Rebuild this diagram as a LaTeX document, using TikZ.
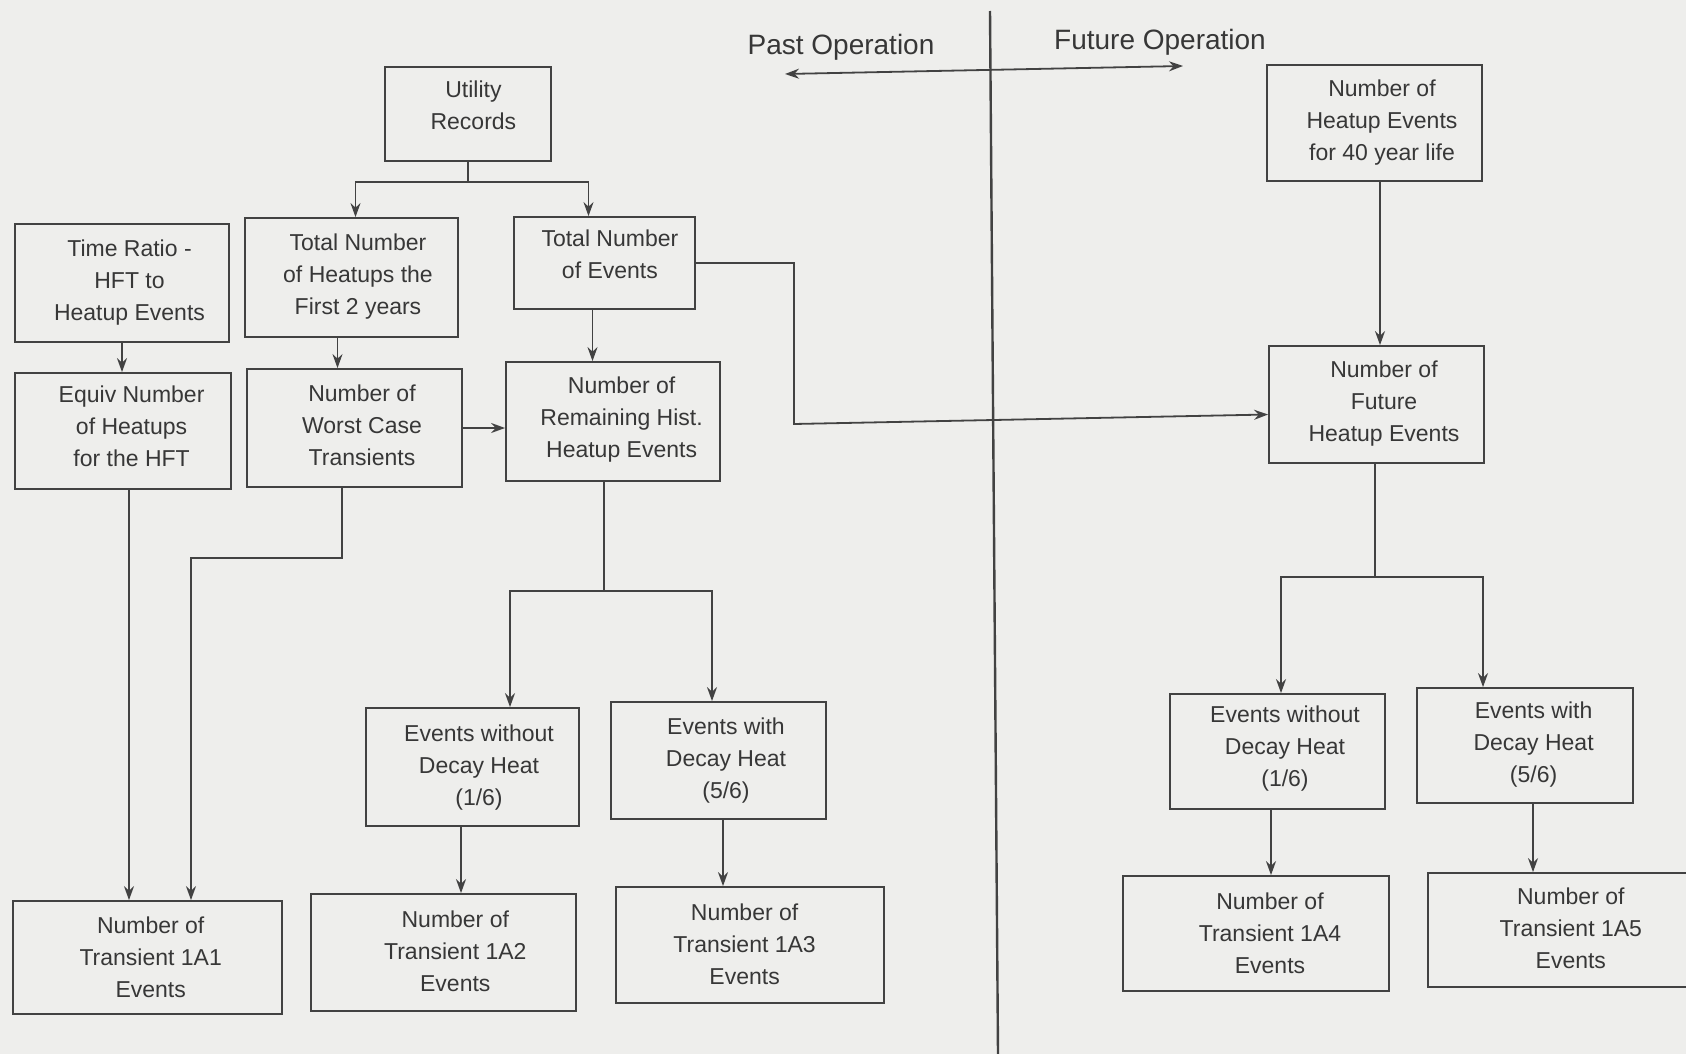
\documentclass[tikz,border=0pt]{standalone}
\usepackage{fontspec}
\setmainfont{Liberation Sans}
\usetikzlibrary{arrows.meta}
\definecolor{bg}{RGB}{238,238,236}
\definecolor{ink}{RGB}{66,66,66}
\definecolor{txt}{RGB}{55,55,55}
\begin{document}
\begin{tikzpicture}[x=1pt,y=-1pt,
  box/.style={draw=ink, line width=1.8pt, inner sep=0pt},
  lbl/.style={align=center, text=txt, font=\fontsize{23}{32}\selectfont, inner sep=0pt},
  conn/.style={draw=ink, line width=1.8pt},
  arr/.style={conn, -{Stealth[length=14pt,width=10pt]}},
  both/.style={conn, {Stealth[length=14pt,width=10pt]}-{Stealth[length=14pt,width=10pt]}},
  title/.style={text=txt, font=\fontsize{28}{34}\selectfont}
]
\clip (0,0) rectangle (1686,1054);
\useasboundingbox (0,0) rectangle (1686,1054);
\fill[bg] (0,0) rectangle (1686,1054);

% divider and titles
\coordinate (dtop) at (990,11);
\coordinate (dbot) at (998,1054);
\draw[conn, line width=2.4pt] (dtop) -- (dbot);
\node[title] (past) at (841,47) {Past Operation};
\node[title] (fut) at (1160,42) {Future Operation};
\coordinate (pl) at (785,74);
\coordinate (pr) at (1183,66);
\draw[both] (pl) -- (pr);

% boxes - past
\node[box, minimum width=166pt, minimum height=94pt,
  label={[lbl,xshift=5.4pt,yshift=8.6pt]center:{Utility\\Records}}] (util) at (468,114) {};
\node[box, minimum width=214pt, minimum height=118pt,
  label={[lbl,xshift=7.5pt]center:{Time Ratio -\\HFT to\\Heatup Events}}] (ratio) at (122,283) {};
\node[box, minimum width=213pt, minimum height=119pt,
  label={[lbl,xshift=6.5pt,yshift=1pt]center:{Total Number\\of Heatups the\\First 2 years}}] (heat2) at (351.5,277.5) {};
\node[box, minimum width=181pt, minimum height=92pt,
  label={[lbl,xshift=5.4pt,yshift=8.6pt]center:{Total Number\\of Events}}] (total) at (604.5,263) {};
\node[box, minimum width=216pt, minimum height=116pt,
  label={[lbl,xshift=8.6pt,yshift=4.3pt]center:{Equiv Number\\of Heatups\\for the HFT}}] (equiv) at (123,431) {};
\node[box, minimum width=215pt, minimum height=118pt,
  label={[lbl,xshift=7.5pt,yshift=2.5pt]center:{Number of\\Worst Case\\Transients}}] (worst) at (354.5,428) {};
\node[box, minimum width=214pt, minimum height=119pt,
  label={[lbl,xshift=8.6pt,yshift=1.5pt]center:{Number of\\Remaining Hist.\\Heatup Events}}] (remain) at (613,421.5) {};
\node[box, minimum width=213pt, minimum height=118pt,
  label={[lbl,xshift=6.5pt,yshift=-1pt]center:{Events without\\Decay Heat\\(1/6)}}] (wo1) at (472.5,767) {};
\node[box, minimum width=215pt, minimum height=117pt,
  label={[lbl,xshift=7.5pt]center:{Events with\\Decay Heat\\(5/6)}}] (wi1) at (718.5,760.5) {};
\node[box, minimum width=269pt, minimum height=113pt,
  label={[lbl,xshift=3.2pt]center:{Number of\\Transient 1A1\\Events}}] (a1) at (147.5,957.5) {};
\node[box, minimum width=265pt, minimum height=117pt,
  label={[lbl,xshift=11.8pt,yshift=1pt]center:{Number of\\Transient 1A2\\Events}}] (a2) at (443.5,952.5) {};
\node[box, minimum width=268pt, minimum height=116pt,
  label={[lbl,xshift=-5.4pt,yshift=1pt]center:{Number of\\Transient 1A3\\Events}}] (a3) at (750,945) {};

% boxes - future
\node[box, minimum width=215pt, minimum height=116pt,
  label={[lbl,xshift=7.5pt]center:{Number of\\Heatup Events\\for 40 year life}}] (life) at (1374.5,123) {};
\node[box, minimum width=215pt, minimum height=117pt,
  label={[lbl,xshift=7.5pt,yshift=1pt]center:{Number of\\Future\\Heatup Events}}] (future) at (1376.5,404.5) {};
\node[box, minimum width=215pt, minimum height=115pt,
  label={[lbl,xshift=7.5pt,yshift=3.2pt]center:{Events without\\Decay Heat\\(1/6)}}] (wo2) at (1277.5,751.5) {};
\node[box, minimum width=216pt, minimum height=115pt,
  label={[lbl,xshift=8.6pt,yshift=1pt]center:{Events with\\Decay Heat\\(5/6)}}] (wi2) at (1525,745.5) {};
\node[box, minimum width=266pt, minimum height=115pt,
  label={[lbl,xshift=14pt]center:{Number of\\Transient 1A4\\Events}}] (a4) at (1256,933.5) {};
\node[box, minimum width=292pt, minimum height=114pt,
  label={[lbl,xshift=-3.2pt,yshift=2pt]center:{Number of\\Transient 1A5\\Events}}] (a5) at (1574,930) {};

% connectors - past
\coordinate (u1) at (468,182);
\draw[conn] (util.south) -- (u1);
\draw[arr] (u1) -| ([xshift=4pt]heat2.north);
\draw[arr] (u1) -| ([xshift=-16pt]total.north);
\draw[arr] (ratio.south) -- (ratio.south |- equiv.north);
\draw[arr] ([xshift=-14pt]heat2.south) -- ([xshift=-14pt]heat2.south |- worst.north);
\draw[arr] ([xshift=-12pt]total.south) -- ([xshift=-12pt]total.south |- remain.north);
\draw[arr] (worst.east) -- (worst.east -| remain.west);
\coordinate (t1) at (794,263);
\coordinate (t2) at (794,424);
\draw[arr] (total.east) -- (t1) -- (t2) -- ([yshift=-10pt]future.west);
\draw[arr] ([xshift=6pt]equiv.south) -- ([xshift=6pt]equiv.south |- a1.north);
\coordinate (w1) at (342,558);
\coordinate (w2) at (191,558);
\draw[arr] ([xshift=-12.5pt]worst.south) -- (w1) -- (w2) -- (w2 |- a1.north);
\coordinate (r1) at (604,591);
\draw[conn] ([xshift=-9pt]remain.south) -- (r1);
\draw[arr] (r1) -| ([xshift=37.5pt]wo1.north);
\draw[arr] (r1) -| ([xshift=-6.5pt]wi1.north);
\draw[arr] ([xshift=-11.5pt]wo1.south) -- ([xshift=-11.5pt]wo1.south |- a2.north);
\draw[arr] ([xshift=4.5pt]wi1.south) -- ([xshift=4.5pt]wi1.south |- a3.north);

% connectors - future
\draw[arr] ([xshift=5.5pt]life.south) -- ([xshift=5.5pt]life.south |- future.north);
\coordinate (f1) at (1375,577);
\draw[conn] ([xshift=-1.5pt]future.south) -- (f1);
\draw[arr] (f1) -| ([xshift=3.5pt]wo2.north);
\draw[arr] (f1) -| ([xshift=-42pt]wi2.north);
\draw[arr] ([xshift=-6.5pt]wo2.south) -- ([xshift=-6.5pt]wo2.south |- a4.north);
\draw[arr] ([xshift=8pt]wi2.south) -- ([xshift=8pt]wi2.south |- a5.north);
\end{tikzpicture}
\end{document}
